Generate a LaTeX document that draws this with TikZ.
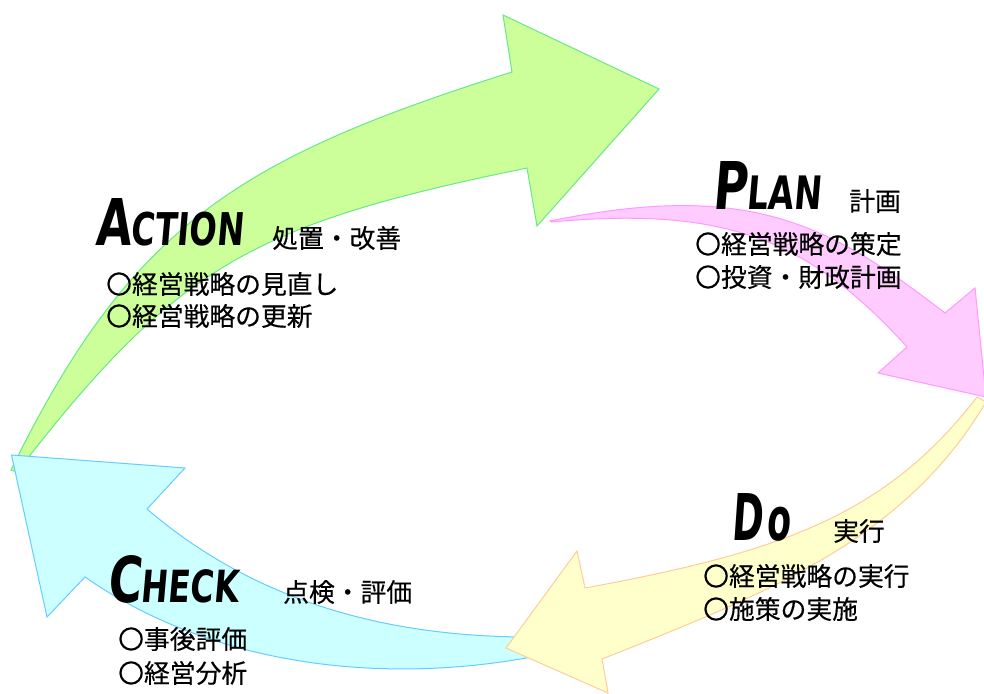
\documentclass[tikz,border=0pt]{standalone}
\usepackage{fontspec}
\usepackage{graphicx}
\newfontfamily\jpfont[FakeBold=0.3]{Noto Sans CJK JP}
\newfontfamily\dispfont[FakeSlant=0.12]{DejaVu Sans Bold}
\definecolor{gfill}{RGB}{204,255,153}
\definecolor{gline}{RGB}{102,232,136}
\definecolor{pfill}{RGB}{255,204,255}
\definecolor{pline}{RGB}{255,153,255}
\definecolor{yfill}{RGB}{255,255,204}
\definecolor{yline}{RGB}{255,204,153}
\definecolor{cfill}{RGB}{204,255,255}
\definecolor{cline}{RGB}{102,204,255}
\newcommand{\dispword}[5]{\resizebox{#3}{#4}{\dispfont\fontsize{40}{40}\selectfont #1\fontsize{#5}{#5}\selectfont #2}}
\begin{document}
\begin{tikzpicture}[x=1pt,y=-1pt,
  arrowshape/.style={line width=1pt,line join=miter},
  jp/.style={font=\jpfont\fontsize{25.8}{30}\selectfont,inner sep=0pt,anchor=west},
  disp/.style={inner sep=0pt,anchor=base west}]
\fill[white] (0,0) rectangle (984,693);
\useasboundingbox (0,0) rectangle (984,693);
% green (Action -> Plan)
\filldraw[arrowshape,fill=gfill,draw=gline]
  (11,470) .. controls (130,227) and (236.5,159) .. (512,72)
  -- (503,15) -- (659,89) -- (537,226) -- (527,168)
  .. controls (252.6,224) and (175.6,266.6) .. (17,472) -- cycle;
% cyan (Check -> Action)
\filldraw[arrowshape,fill=cfill,draw=cline]
  (530,637) .. controls (360,637) and (238,587) .. (147,509)
  -- (185,468) -- (11.5,455) -- (47,617) -- (85,577)
  .. controls (216.2,668.2) and (385,684) .. (532,657) -- cycle;
% yellow (Do -> Check)
\filldraw[arrowshape,fill=yfill,draw=yline]
  (977,397) .. controls (885.5,515.5) and (781,552) .. (585,588)
  -- (577,551) -- (506,648) -- (608,693) -- (602,659)
  .. controls (769.4,592.4) and (904.4,539.6) .. (986,402) -- cycle;
% pink (Plan -> Do)
\filldraw[arrowshape,fill=pfill,draw=pline]
  (550,221) .. controls (746,181) and (826.5,221.5) .. (945,313)
  -- (975,288) -- (986,397) -- (878,373) -- (907,347)
  .. controls (806.5,236) and (720.3,206.7) .. (551,222) -- cycle;
% ACTION
\node[disp] (actt) at (95,245) {\dispword{A}{CTION}{148pt}{47pt}{28}};
\node[jp] (actj) at (272,238) {処置・改善};
\node[jp] (act1) at (106,284) {〇経営戦略の見直し};
\node[jp] (act2) at (106,316) {〇経営戦略の更新};
% PLAN
\node[disp] (plnt) at (712,209) {\dispword{P}{LAN}{109pt}{48pt}{28}};
\node[jp] (plnj) at (849,201) {計画};
\node[jp] (pln1) at (695,244) {〇経営戦略の策定};
\node[jp] (pln2) at (695,277) {〇投資・財政計画};
% DO
\node[disp] (dot) at (731,540) {\dispword{D}{\kern4pt o}{59pt}{47pt}{37}};
\node[jp] (doj) at (833,531) {実行};
\node[jp] (do1) at (703,576) {〇経営戦略の実行};
\node[jp] (do2) at (703,609) {〇施策の実施};
% CHECK
\node[disp] (chkt) at (107,602) {\dispword{C}{HECK}{131pt}{47pt}{28}};
\node[jp] (chkj) at (283,592) {点検・評価};
\node[jp] (chk1) at (118,639) {〇事後評価};
\node[jp] (chk2) at (118,673) {〇経営分析};
\end{tikzpicture}
\end{document}
